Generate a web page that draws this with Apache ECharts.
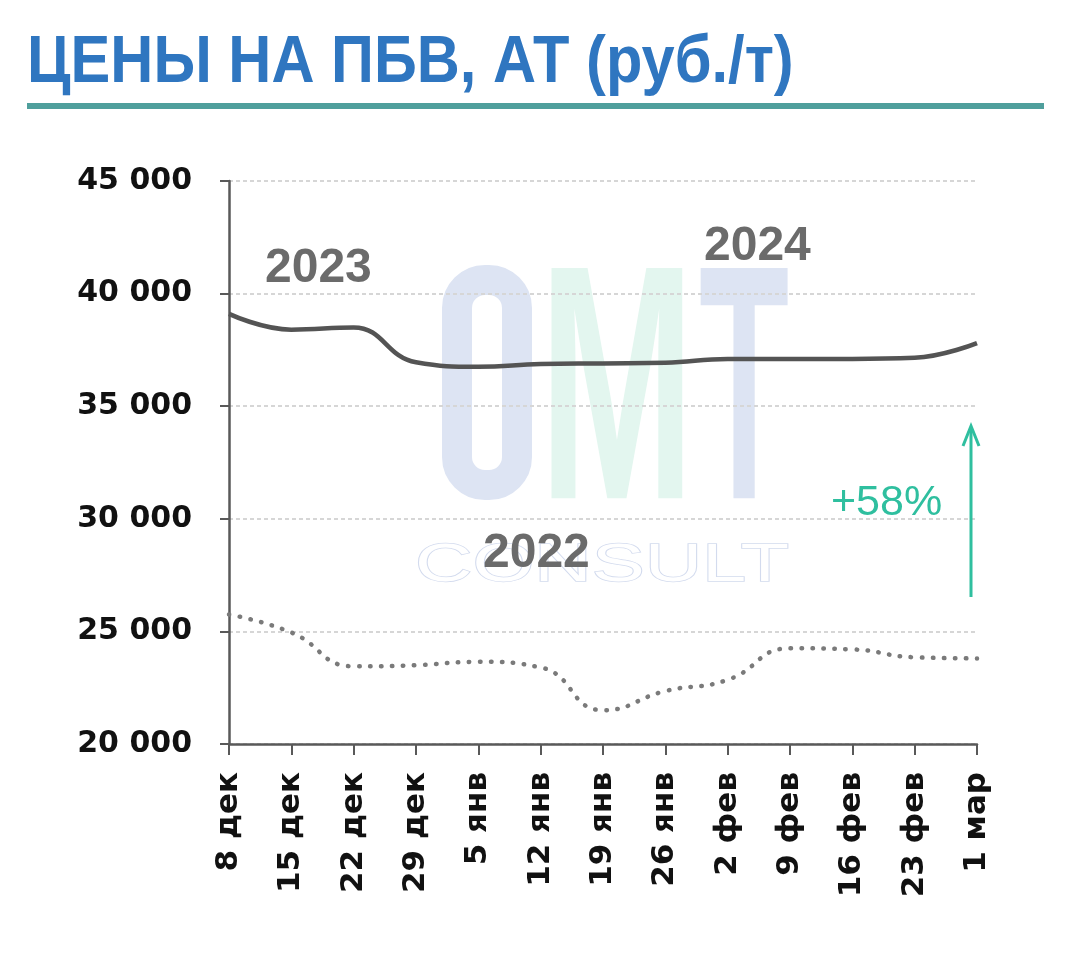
<!DOCTYPE html>
<html>
<head>
<meta charset="utf-8">
<script src="https://cdn.jsdelivr.net/npm/echarts@6/dist/echarts.min.js"></script>
<style>html,body{margin:0;padding:0;background:#fff;}#c{width:1068px;height:965px;}</style>
</head>
<body>
<div id="c"></div>
<script>
const categories = ['8 дек','15 дек','22 дек','29 дек','5 янв','12 янв','19 янв','26 янв','2 фев','9 фев','16 фев','23 фев','1 мар'];
const prices2023_24 = [39100, 38400, 38500, 36950, 36750, 36870, 36900, 36930, 37100, 37100, 37100, 37150, 37800];
const prices2021_22 = [25750, 24950, 23450, 23500, 23650, 23400, 21500, 22350, 22850, 24250, 24200, 23850, 23800];
const yTicks = { min: 20000, max: 45000, step: 5000 };
const titleText = 'ЦЕНЫ НА ПБВ, АТ (руб./т)';
const seriesLabels = ['2023', '2024', '2022'];
const growthLabel = '+58%';

const chart = echarts.init(document.getElementById('c'));
const grey = '#6b6b6b';
const teal = '#2fbf9f';

chart.setOption({
  animation: false,
  backgroundColor: '#ffffff',
  grid: { left: 229, right: 91, top: 181, bottom: 221, containLabel: false },
  xAxis: {
    type: 'category',
    data: categories,
    boundaryGap: false,
    axisLine: { lineStyle: { color: '#595959', width: 2.5 } },
    axisTick: { show: true, alignWithLabel: true, length: 11, lineStyle: { color: '#595959', width: 2 } },
    axisLabel: {
      rotate: 90, margin: 28, interval: 0,
      fontFamily: 'DejaVu Sans', fontWeight: 'bold', fontSize: 31, color: '#111'
    },
    splitLine: { show: false }
  },
  yAxis: {
    type: 'value',
    min: yTicks.min, max: yTicks.max, interval: yTicks.step,
    axisLine: { show: true, lineStyle: { color: '#595959', width: 2.5 } },
    axisTick: { show: true, length: 9, lineStyle: { color: '#595959', width: 2 } },
    axisLabel: {
      margin: 37,
      fontFamily: 'DejaVu Sans', fontWeight: 'bold', fontSize: 30, color: '#111',
      formatter: v => String(v).replace(/\B(?=(\d{3})+(?!\d))/g, ' ')
    },
    splitLine: { show: true, lineStyle: { color: '#d6d6d6', width: 2, type: [4, 3] } }
  },
  series: [
    {
      name: '2023-2024', type: 'line', data: prices2023_24, smooth: 0.45,
      symbol: 'none', z: 5,
      lineStyle: { color: '#545454', width: 4.5 }
    },
    {
      name: '2021-2022', type: 'line', data: prices2021_22, smooth: 0.5,
      symbol: 'none', z: 4,
      lineStyle: { color: '#7a7a7a', width: 4.5, type: [0.5, 10.5], cap: 'round' }
    }
  ],
  graphic: [
    // watermark
    { type: 'rect', z: -10, shape: { x: 457, y: 280, width: 60, height: 205, r: 28 },
      style: { fill: null, stroke: '#dde4f3', lineWidth: 30 } },
    { type: 'text', z: -10, x: 539, y: 406, scaleX: 0.57, scaleY: 1.02,
      style: { text: 'M', font: 'bold 328px "Liberation Sans"', fill: '#e3f6ef', textAlign: 'left', textVerticalAlign: 'middle' } },
    { type: 'text', z: -10, x: 699, y: 406, scaleX: 0.45, scaleY: 1.02,
      style: { text: 'T', font: 'bold 328px "Liberation Sans"', fill: '#dde4f3', textAlign: 'left', textVerticalAlign: 'middle' } },
    { type: 'text', z: -10, x: 415, y: 566, scaleX: 1.5, scaleY: 1,
      style: { text: 'CONSULT', font: '53px "Liberation Sans"', fill: '#ffffff', stroke: '#d3dbee', lineWidth: 1.5, textAlign: 'left', textVerticalAlign: 'middle' } },
    // title
    { type: 'text', z: 10, x: 27, y: 64, scaleX: 0.89, scaleY: 1,
      style: { text: titleText, font: 'bold 67px "Liberation Sans"', fill: '#2f76c0', textAlign: 'left', textVerticalAlign: 'middle' } },
    { type: 'rect', z: 10, shape: { x: 27, y: 103, width: 1017, height: 6 }, style: { fill: '#4f9f9c' } },
    // series annotations
    { type: 'text', z: 10, x: 265, y: 269,
      style: { text: seriesLabels[0], font: 'bold 48px "Liberation Sans"', fill: grey, textAlign: 'left', textVerticalAlign: 'middle' } },
    { type: 'text', z: 10, x: 704, y: 247,
      style: { text: seriesLabels[1], font: 'bold 48px "Liberation Sans"', fill: grey, textAlign: 'left', textVerticalAlign: 'middle' } },
    { type: 'text', z: 10, x: 483, y: 554,
      style: { text: seriesLabels[2], font: 'bold 48px "Liberation Sans"', fill: grey, textAlign: 'left', textVerticalAlign: 'middle' } },
    { type: 'text', z: 10, x: 831, y: 503,
      style: { text: growthLabel, font: '43px "Liberation Sans"', fill: teal, textAlign: 'left', textVerticalAlign: 'middle' } },
    // arrow
    { type: 'line', z: 10, shape: { x1: 971, y1: 597, x2: 971, y2: 427 }, style: { stroke: teal, lineWidth: 3 } },
    { type: 'polyline', z: 10, shape: { points: [[963, 446], [971, 426], [979, 446]] }, style: { stroke: teal, lineWidth: 3, fill: null } }
  ]
});
</script>
</body>
</html>
